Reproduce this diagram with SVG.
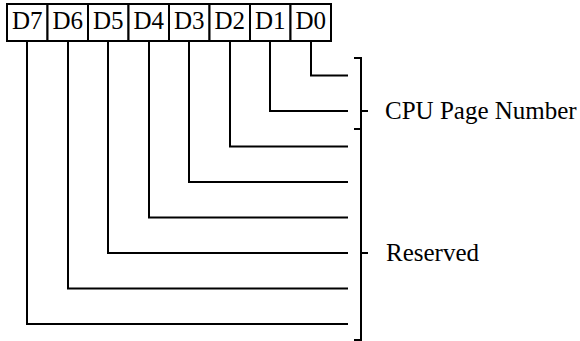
<svg xmlns="http://www.w3.org/2000/svg" width="580" height="341" viewBox="0 0 580 341">
<style>
.ln{fill:none;stroke:#000;stroke-width:2}
.bx{fill:#fff;stroke:#000;stroke-width:2}
.t{font-family:"Liberation Serif","Times New Roman",serif;font-size:25px;fill:#000}
</style>
<rect width="580" height="341" fill="#fff"/>
<g id="register">
<g id="D7"><rect class="bx" x="7" y="4" width="40.5" height="37"/><text class="t" x="27.25" y="29" text-anchor="middle">D7</text></g>
<g id="D6"><rect class="bx" x="47.5" y="4" width="40.5" height="37"/><text class="t" x="67.75" y="29" text-anchor="middle">D6</text></g>
<g id="D5"><rect class="bx" x="88" y="4" width="40.5" height="37"/><text class="t" x="108.25" y="29" text-anchor="middle">D5</text></g>
<g id="D4"><rect class="bx" x="128.5" y="4" width="40.5" height="37"/><text class="t" x="148.75" y="29" text-anchor="middle">D4</text></g>
<g id="D3"><rect class="bx" x="169" y="4" width="40.5" height="37"/><text class="t" x="189.25" y="29" text-anchor="middle">D3</text></g>
<g id="D2"><rect class="bx" x="209.5" y="4" width="40.5" height="37"/><text class="t" x="229.75" y="29" text-anchor="middle">D2</text></g>
<g id="D1"><rect class="bx" x="250" y="4" width="40.5" height="37"/><text class="t" x="270.25" y="29" text-anchor="middle">D1</text></g>
<g id="D0"><rect class="bx" x="290.5" y="4" width="40.5" height="37"/><text class="t" x="310.75" y="29" text-anchor="middle">D0</text></g>
</g>
<g id="connectors">
<path class="ln" d="M311 41V75.5H348"/>
<path class="ln" d="M270 41V111H348"/>
<path class="ln" d="M230 41V146.5H348"/>
<path class="ln" d="M189 41V182H348"/>
<path class="ln" d="M149 41V217.5H348"/>
<path class="ln" d="M108 41V253H348"/>
<path class="ln" d="M68 41V288.5H348"/>
<path class="ln" d="M27 41V324H348"/>
</g>
<g id="brackets">
<path class="ln" d="M354 58H361V340H354"/>
<path class="ln" d="M354 129H361"/>
<path class="ln" d="M361 111H368"/>
<path class="ln" d="M361 253H368"/>
</g>
<g id="labels">
<text class="t" x="385" y="119">CPU Page Number</text>
<text class="t" x="386" y="261">Reserved</text>
</g>
</svg>
